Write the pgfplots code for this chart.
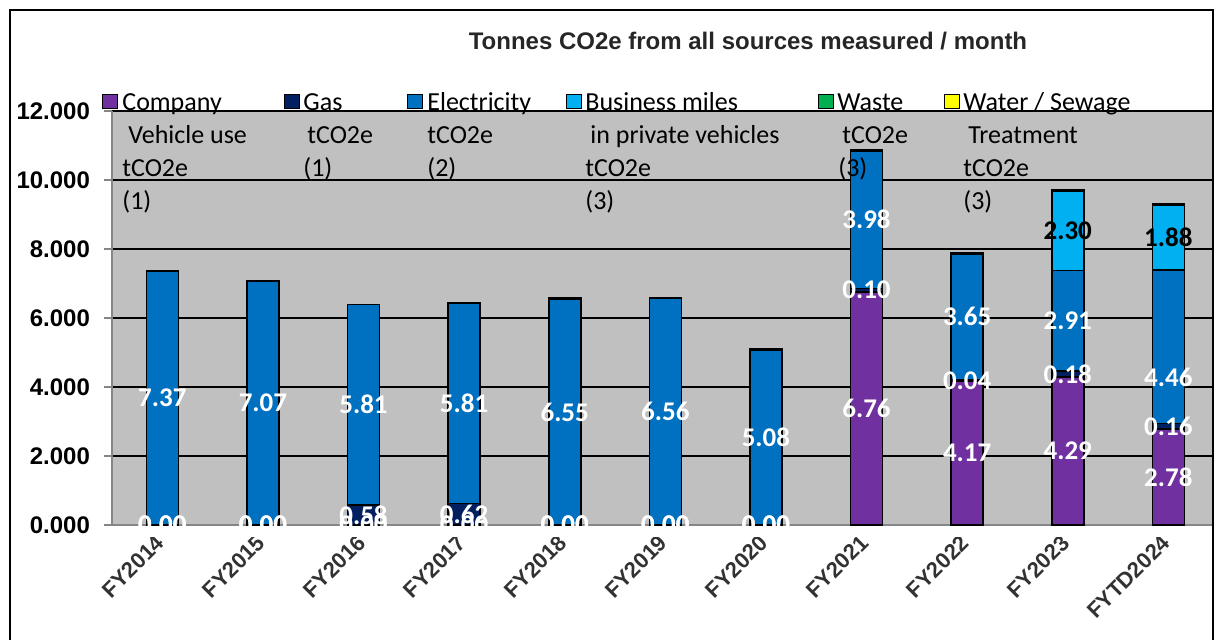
\documentclass[border=0pt]{standalone}
\usepackage{fontspec}
\setmainfont{Liberation Sans}
\newfontfamily\calibri{Carlito}
\usepackage{pgfplots}
\pgfplotsset{compat=1.18}
\definecolor{plotgray}{RGB}{192,192,192}
\definecolor{axgray}{RGB}{134,134,134}
\definecolor{cCompany}{RGB}{112,48,160}
\definecolor{cGas}{RGB}{0,32,96}
\definecolor{cElec}{RGB}{0,112,192}
\definecolor{cBus}{RGB}{0,176,240}
\definecolor{cWaste}{RGB}{0,176,80}
\definecolor{cWater}{RGB}{255,255,0}
\definecolor{xlab}{RGB}{50,50,50}
\begin{document}
\begin{tikzpicture}
\useasboundingbox (0,0) rectangle (607.5pt,319.5pt);
\begin{axis}[
  at={(56pt,57pt)}, anchor=south west,
  scale only axis, width=550pt, height=207pt,
  xmin=-0.5, xmax=10.434, ymin=0, ymax=12,
  ybar stacked, bar width=16pt,
  axis background/.style={fill=plotgray},
  axis x line*=bottom, axis y line*=left,
  axis line style={draw=axgray, line width=0.8pt},
  ymajorgrids, grid style={black, line width=0.7pt},
  ytick={0,2,...,12},
  tick align=outside, major tick length=4pt,
  ytick style={draw=axgray, line width=0.8pt},
  xtick style={draw=none},
  xtick={0,...,10},
  xticklabels={FY2014,FY2015,FY2016,FY2017,FY2018,FY2019,FY2020,FY2021,FY2022,FY2023,FYTD2024},
  xticklabel style={font=\bfseries\fontsize{11}{13}\selectfont, text=xlab, rotate=45, anchor=east, xshift=2pt},
  xticklabel shift=2pt,
  yticklabel style={font=\bfseries\fontsize{12}{14}\selectfont, xshift=-3.5pt,
    /pgf/number format/.cd, fixed, fixed zerofill, precision=3, 1000 sep={}, assume math mode=true},
  every axis plot/.append style={draw=black, line width=0.8pt},
]
% Company vehicle use
\addplot[fill=cCompany] coordinates {(0,0) (1,0) (2,0) (3,0) (4,0) (5,0) (6,0) (7,6.76) (8,4.17) (9,4.29) (10,2.78)};
% Gas
\addplot[fill=cGas] coordinates {(0,0) (1,0) (2,0.58) (3,0.62) (4,0) (5,0) (6,0) (7,0.10) (8,0.04) (9,0.18) (10,0.16)};
% Electricity
\addplot[fill=cElec] coordinates {(0,7.37) (1,7.07) (2,5.81) (3,5.81) (4,6.55) (5,6.56) (6,5.08) (7,3.98) (8,3.65) (9,2.91) (10,4.46)};
% Business miles
\addplot[fill=cBus] coordinates {(0,0) (1,0) (2,0) (3,0) (4,0) (5,0) (6,0) (7,0) (8,0) (9,2.30) (10,1.88)};
% Waste
\addplot[fill=cWaste] coordinates {(0,0) (1,0) (2,0) (3,0) (4,0.02) (5,0.02) (6,0.02) (7,0.02) (8,0.02) (9,0.02) (10,0.02)};
% Water / Sewage
\addplot[fill=cWater] coordinates {(0,0) (1,0) (2,0) (3,0) (4,0.02) (5,0.01) (6,0.02) (7,0.01) (8,0.01) (9,0.01) (10,0.01)};
\end{axis}
% data labels (segment centres)
\begin{axis}[
  at={(56pt,57pt)}, anchor=south west,
  scale only axis, width=550pt, height=207pt,
  xmin=-0.5, xmax=10.434, ymin=0, ymax=12,
  hide axis, clip=false,
  nodes near coords, point meta=explicit symbolic,
  nodes near coords style={font=\calibri\bfseries\fontsize{13.5}{15}\selectfont, anchor=center, inner sep=0pt},
]
\addplot[draw=none, mark=none, nodes near coords style={text=white}] coordinates {
 (0,0)[0.00] (1,0)[0.00] (2,0)[0.00] (3,0)[0.00] (4,0)[0.00] (5,0)[0.00] (6,0)[0.00]
 (7,3.38)[6.76] (8,2.085)[4.17] (9,2.145)[4.29] (10,1.39)[2.78]};
\addplot[draw=none, mark=none, nodes near coords style={text=white}] coordinates {
 (0,0)[0.00] (1,0)[0.00] (2,0.29)[0.58] (3,0.31)[0.62] (4,0)[0.00] (5,0)[0.00] (6,0)[0.00]
 (7,6.81)[0.10] (8,4.19)[0.04] (9,4.38)[0.18] (10,2.86)[0.16]};
\addplot[draw=none, mark=none, nodes near coords style={text=white}] coordinates {
 (0,3.685)[7.37] (1,3.535)[7.07] (2,3.485)[5.81] (3,3.525)[5.81] (4,3.275)[6.55] (5,3.28)[6.56] (6,2.54)[5.08]
 (7,8.85)[3.98] (8,6.035)[3.65] (9,5.925)[2.91] (10,4.29)[4.46]};
\addplot[draw=none, mark=none, nodes near coords style={text=black}] coordinates {
 (9,8.53)[2.30] (10,8.34)[1.88]};
\end{axis}
% cut labels below the plot area
\fill[white] (56.6pt,51pt) rectangle (606pt,56.2pt);
% legend
\begin{scope}[every node/.style={font=\calibri\fontsize{13}{15}\selectfont, anchor=base west, inner sep=0pt}]
\foreach \x/\c in {55/cCompany, 146/cGas, 207.5/cElec, 287/cBus, 413/cWaste, 476/cWater}{
  \filldraw[fill=\c, draw=black, line width=0.6pt] (\x pt-3.6pt,268.75pt-3.6pt) rectangle (\x pt+3.6pt,268.75pt+3.6pt);
}
\node at (61pt,264.5pt) {Company};
\node at (64pt,248pt) {Vehicle use};
\node at (61pt,231.5pt) {tCO2e};
\node at (61pt,215pt) {(1)};
\node at (151.5pt,264.5pt) {Gas};
\node at (153.5pt,248pt) {tCO2e};
\node at (151.5pt,231.5pt) {(1)};
\node at (213.5pt,264.5pt) {Electricity};
\node at (213.5pt,248pt) {tCO2e};
\node at (213.5pt,231.5pt) {(2)};
\node at (292.5pt,264.5pt) {Business miles};
\node at (295pt,248pt) {in private vehicles};
\node at (292.5pt,231.5pt) {tCO2e};
\node at (292.5pt,215pt) {(3)};
\node at (418.5pt,264.5pt) {Waste};
\node at (421pt,248pt) {tCO2e};
\node at (419pt,231.5pt) {(3)};
\node at (481.5pt,264.5pt) {Water / Sewage};
\node at (484pt,248pt) {Treatment};
\node at (481.5pt,231.5pt) {tCO2e};
\node at (481.5pt,215pt) {(3)};
\end{scope}
% title
\node[font=\bfseries\fontsize{12}{14}\selectfont, text={rgb,255:red,38;green,38;blue,38}] at (374pt,299pt) {Tonnes CO2e from all sources measured / month};
% outer frame
\draw[black, line width=1pt] (5pt,-1pt) -- (5pt,314.5pt) -- (606.5pt,314.5pt) -- (606.5pt,-1pt);
\end{tikzpicture}
\end{document}
